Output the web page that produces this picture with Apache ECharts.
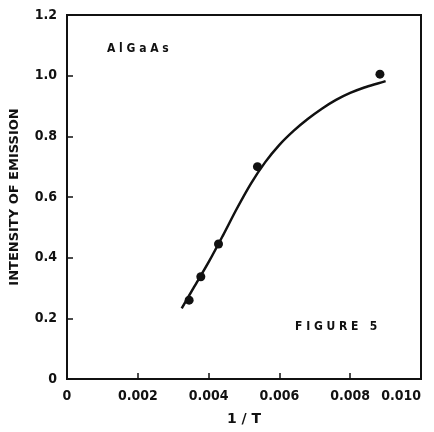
<!DOCTYPE html>
<html>
<head>
<meta charset="utf-8">
<title>Figure 5</title>
<script src="https://cdn.jsdelivr.net/npm/echarts@6/dist/echarts.min.js"></script>
<style>
  html, body { margin: 0; padding: 0; background: #fff; }
  #main { width: 434px; height: 432px; }
</style>
</head>
<body>
<div id="main"></div>
<script>
// measured points (1/T, intensity)
var pointX = [0.00345, 0.00378, 0.00428, 0.00538, 0.00884];
var pointY = [0.26, 0.337, 0.445, 0.70, 1.005];

// fitted curve
var curveX = [0.00324, 0.0036, 0.0040, 0.0044, 0.0048, 0.0052, 0.0056, 0.0060, 0.0064, 0.0068, 0.0072, 0.0076, 0.0080, 0.0084, 0.0088, 0.0090];
var curveY = [0.233, 0.305, 0.385, 0.472, 0.562, 0.645, 0.715, 0.772, 0.818, 0.857, 0.891, 0.92, 0.943, 0.961, 0.975, 0.982];

var fontFam = '"DejaVu Sans", sans-serif';
var condFam = '"DejaVu Sans Condensed", "DejaVu Sans", sans-serif';

var pts = pointX.map(function (x, i) { return [x, pointY[i]]; });
var curve = curveX.map(function (x, i) { return [x, curveY[i]]; });

var chart = echarts.init(document.getElementById('main'));
chart.setOption({
  animation: false,
  backgroundColor: '#fff',
  grid: {
    left: 67, right: 13, top: 15, bottom: 53, outerBoundsMode: 'none',
    show: true, borderColor: '#111', borderWidth: 2
  },
  xAxis: {
    type: 'value', min: 0, max: 0.010, interval: 0.002,
    name: '1 / T', nameLocation: 'middle', nameGap: 33,
    nameTextStyle: { color: '#111', fontSize: 14, fontWeight: 'bold', fontFamily: fontFam },
    axisLine: { lineStyle: { color: '#111', width: 2 } },
    axisTick: { inside: true, length: 6, lineStyle: { color: '#111', width: 1.5 } },
    axisLabel: {
      color: '#111', fontSize: 14, fontWeight: 'bold', fontFamily: condFam, margin: 10,
      alignMaxLabel: 'right',
      formatter: function (v) { return v === 0 ? '0' : v.toFixed(3); }
    },
    splitLine: { show: false }
  },
  yAxis: {
    type: 'value', min: 0, max: 1.2, interval: 0.2,
    name: 'INTENSITY OF EMISSION', nameLocation: 'middle', nameGap: 46, nameRotate: 90,
    nameTextStyle: { color: '#111', fontSize: 13, fontWeight: 'bold', fontFamily: fontFam },
    axisLine: { lineStyle: { color: '#111', width: 2 } },
    axisTick: { inside: true, length: 6, lineStyle: { color: '#111', width: 1.5 } },
    axisLabel: {
      color: '#111', fontSize: 14, fontWeight: 'bold', fontFamily: condFam, margin: 10,
      formatter: function (v) { return v === 0 ? '0' : v.toFixed(1); }
    },
    splitLine: { show: false }
  },
  graphic: [
    { type: 'text', left: 107, top: 43, style: { text: 'A l G a A s', fill: '#111', font: 'bold 12px ' + condFam } },
    { type: 'text', left: 295, top: 321, style: { text: 'F I G U R E   5', fill: '#111', font: 'bold 12px ' + condFam } }
  ],
  series: [
    {
      type: 'line', data: curve, smooth: 0.3, symbol: 'none',
      lineStyle: { color: '#111', width: 2.5 }
    },
    {
      type: 'scatter', data: pts, symbolSize: 9,
      itemStyle: { color: '#111', opacity: 1 }
    }
  ]
});
</script>
</body>
</html>
